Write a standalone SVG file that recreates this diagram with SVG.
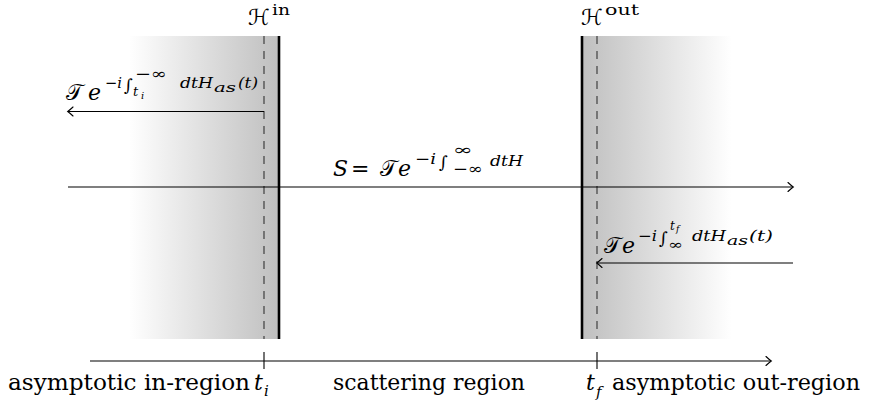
<svg xmlns="http://www.w3.org/2000/svg" width="871" height="403" viewBox="0 0 871 403">
<style>
.ln{stroke:#000;stroke-width:1.1;fill:none}
.thick{stroke:#000;stroke-width:2.6}
.dash{stroke:#333;stroke-width:1.1;stroke-dasharray:8 7}
.m{font-style:italic}
.cal{font-family:'DejaVu Sans',sans-serif}
.s24{font-size:24px}.s22{font-size:22px}.s17{font-size:17px}.s15{font-size:15px}.s13{font-size:13px}.s12{font-size:12px}.s10{font-size:10px}.s9{font-size:9px}
</style>
<defs>
<linearGradient id="gl" x1="0" y1="0" x2="1" y2="0"><stop offset="0" stop-color="#fff"/><stop offset="1" stop-color="#bfbfbf"/></linearGradient>
<linearGradient id="gr" x1="0" y1="0" x2="1" y2="0"><stop offset="0" stop-color="#bfbfbf"/><stop offset="1" stop-color="#fff"/></linearGradient>
<marker id="to" markerUnits="userSpaceOnUse" markerWidth="12" markerHeight="12" viewBox="-8 -6 10 12" refX="0" refY="0" orient="auto">
<path d="M-5,-4.5 Q-1.5,-1.2 0.3,0 Q-1.5,1.2 -5,4.5" fill="none" stroke="#000" stroke-width="1.1" stroke-linecap="round"/>
</marker>
</defs>
<g font-family="DejaVu Serif, serif" fill="#000">
<g id="region-in">
<rect x="129" y="36" width="150" height="303" fill="url(#gl)"/>
<line class="dash" x1="264" y1="36" x2="264" y2="339"/>
<line class="thick" x1="279" y1="36" x2="279" y2="339"/>
<text class="cal s22" x="248" y="25">ℋ</text>
<text class="s15" x="272" y="15" textLength="18" lengthAdjust="spacingAndGlyphs">in</text>
</g>
<g id="region-out">
<rect x="582" y="36" width="150" height="303" fill="url(#gr)"/>
<line class="dash" x1="597" y1="36" x2="597" y2="339"/>
<line class="thick" x1="582" y1="36" x2="582" y2="339"/>
<text class="cal s22" x="581" y="25">ℋ</text>
<text class="s15" x="605" y="15" textLength="34" lengthAdjust="spacingAndGlyphs">out</text>
</g>
<g id="connectors">
<line class="ln" x1="264" y1="111.5" x2="68" y2="111.5" marker-end="url(#to)"/>
<line class="ln" x1="68" y1="187" x2="793" y2="187" marker-end="url(#to)"/>
<line class="ln" x1="793" y1="263" x2="597" y2="263" marker-end="url(#to)"/>
<line class="ln" x1="90" y1="361" x2="771" y2="361" marker-end="url(#to)"/>
<line class="ln" x1="264" y1="352" x2="264" y2="369"/>
<line class="ln" x1="597" y1="352" x2="597" y2="369"/>
</g>
<g id="label-in">
<text class="s22" x="66" y="100">𝒯</text>
<text class="m s22" x="88" y="100">e</text>
<text class="m s15" x="105" y="88" textLength="17" lengthAdjust="spacingAndGlyphs">−i</text>
<text class="s17" x="124" y="91">∫</text>
<text class="m s15" x="135" y="79" textLength="32" lengthAdjust="spacingAndGlyphs">−∞</text>
<text class="m s13" x="133" y="96">t</text>
<text class="m s10" x="141" y="99">i</text>
<text class="m s15" x="180" y="88" textLength="33" lengthAdjust="spacingAndGlyphs">dtH</text>
<text class="m s13" x="214" y="92" textLength="22" lengthAdjust="spacingAndGlyphs">as</text>
<text class="m s15" x="238" y="88" textLength="20" lengthAdjust="spacingAndGlyphs">(t)</text>
</g>
<g id="label-s">
<text class="m s22" x="333" y="176">S</text>
<text class="s22" x="351" y="176">=</text>
<text class="s22" x="380" y="176">𝒯</text>
<text class="m s22" x="398" y="176">e</text>
<text class="m s15" x="415" y="164" textLength="21" lengthAdjust="spacingAndGlyphs">−i</text>
<text class="s17" x="439" y="168">∫</text>
<text class="m s15" x="453" y="155" textLength="20" lengthAdjust="spacingAndGlyphs">∞</text>
<text class="m s15" x="453" y="174" textLength="30" lengthAdjust="spacingAndGlyphs">−∞</text>
<text class="m s15" x="490" y="166" textLength="33" lengthAdjust="spacingAndGlyphs">dtH</text>
</g>
<g id="label-out">
<text class="s22" x="604" y="253">𝒯</text>
<text class="m s22" x="622" y="253">e</text>
<text class="m s15" x="638" y="241" textLength="19" lengthAdjust="spacingAndGlyphs">−i</text>
<text class="s17" x="659" y="244">∫</text>
<text class="m s12" x="670" y="230">t</text>
<text class="m s9" x="676" y="232">f</text>
<text class="m s13" x="668" y="249" textLength="15" lengthAdjust="spacingAndGlyphs">∞</text>
<text class="m s15" x="692" y="241" textLength="34" lengthAdjust="spacingAndGlyphs">dtH</text>
<text class="m s13" x="727" y="245" textLength="21" lengthAdjust="spacingAndGlyphs">as</text>
<text class="m s15" x="749" y="241" textLength="24" lengthAdjust="spacingAndGlyphs">(t)</text>
</g>
<g id="axis-labels">
<text class="s22" x="8" y="390" textLength="242" lengthAdjust="spacingAndGlyphs">asymptotic in-region</text>
<text class="m s22" x="254" y="390">t</text>
<text class="m s15" x="264" y="396">i</text>
<text class="s22" x="333" y="390" textLength="192" lengthAdjust="spacingAndGlyphs">scattering region</text>
<text class="m s22" x="586" y="390">t</text>
<text class="m s15" x="596" y="397">f</text>
<text class="s22" x="612" y="390" textLength="248" lengthAdjust="spacingAndGlyphs">asymptotic out-region</text>
</g>
</g>
</svg>
